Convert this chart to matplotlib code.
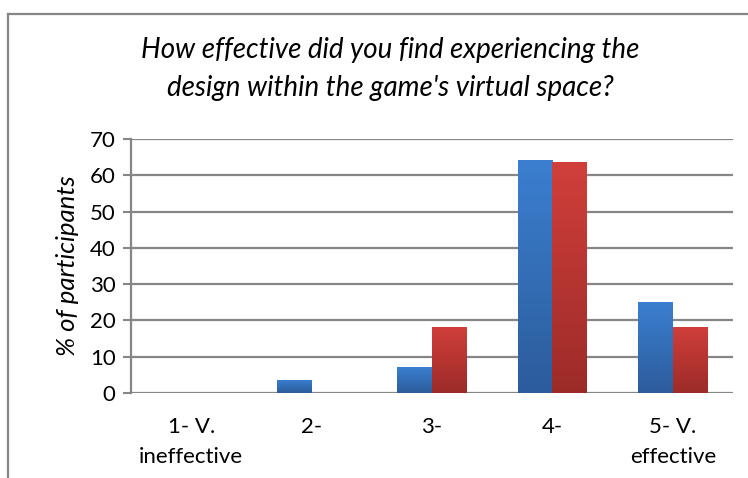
import matplotlib.pyplot as plt
import numpy as np
from matplotlib.colors import LinearSegmentedColormap
from matplotlib.lines import Line2D

# Data
categories = ["1- V.\nineffective", "2-", "3-", "4-", "5- V.\neffective"]
series_a = [0, 3.6, 7.1, 64.3, 25.0]
series_b = [0, 0, 18.2, 63.6, 18.2]
yticks = [0, 10, 20, 30, 40, 50, 60, 70]

plt.rcParams['font.family'] = ['Lato', 'DejaVu Sans']

fig = plt.figure(figsize=(7.48, 4.78), dpi=100)
ax = fig.add_axes([0.1751, 0.1778, 0.8049, 0.5314])

blue_cm = LinearSegmentedColormap.from_list("b", ["#2c5c9b", "#3b7fd0"])
red_cm = LinearSegmentedColormap.from_list("r", ["#9c2b28", "#d13f3b"])

x = np.arange(len(categories))
w = 0.29


def gradient_bars(xs, vals, cmap):
    bars = ax.bar(xs, vals, w, color="none", edgecolor="none", zorder=3)
    grad = np.linspace(0, 1, 256).reshape(-1, 1)
    for b in bars:
        h = b.get_height()
        if h <= 0:
            continue
        x0 = b.get_x()
        # soft shadow under the bar
        ax.bar(x0 + w / 2 + 0.01, 0.9, w, bottom=-0.9, color="#000000",
               alpha=0.08, edgecolor="none", zorder=2)
        im = ax.imshow(grad, extent=[x0, x0 + w, 0, h], origin="lower",
                       cmap=cmap, aspect="auto", zorder=3)
        im.set_clip_path(b)


gradient_bars(x - w / 2, series_a, blue_cm)
gradient_bars(x + w / 2, series_b, red_cm)

ax.set_xlim(-0.5, len(categories) - 0.5)
ax.set_ylim(0, 70)
ax.set_yticks(yticks)
ax.set_xticks(x)
ax.set_xticklabels(categories, fontsize=16, linespacing=1.65)
ax.tick_params(axis="y", labelsize=16, length=6, width=1.5, color="#868686", pad=5)
ax.tick_params(axis="x", length=0, pad=17)

ax.grid(axis="y", color="#868686", linewidth=1.6, zorder=1)
ax.set_axisbelow(True)
for s in ["top", "right", "bottom"]:
    ax.spines[s].set_visible(False)
ax.spines["left"].set_color("#868686")
ax.spines["left"].set_linewidth(1.6)

ax.set_ylabel("% of participants", fontsize=18.5, style="italic", labelpad=8)

fig.text(0.522, 0.856, "How effective did you find experiencing the\ndesign within the game's virtual space?",
         ha="center", va="center", fontsize=20, style="italic", linespacing=1.55)

# outer chart border
fig.add_artist(Line2D([8 / 748, 8 / 748], [0, 1 - 14 / 478], transform=fig.transFigure,
                      color="#868686", linewidth=1.6))
fig.add_artist(Line2D([8 / 748, 1], [1 - 14 / 478, 1 - 14 / 478], transform=fig.transFigure,
                      color="#868686", linewidth=1.6))

fig.savefig("out.png", dpi=100)
